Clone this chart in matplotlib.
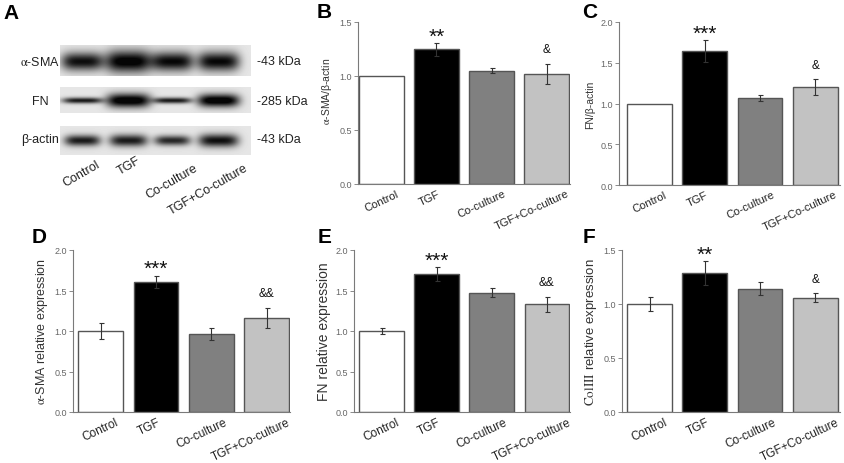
import numpy as np
import matplotlib
matplotlib.use("Agg")
import matplotlib.pyplot as plt

plt.rcParams['font.family'] = ['Liberation Sans', 'DejaVu Sans']
plt.rcParams['mathtext.fontset'] = 'stix'

groups = ["Control", "TGF", "Co-culture", "TGF+Co-culture"]
bar_colors = ["#ffffff", "#000000", "#808080", "#c2c2c2"]

# panel B: a-SMA / b-actin (western blot)
b_vals = [1.0, 1.247, 1.05, 1.02]
b_err = [0.0, 0.062, 0.02, 0.095]
# panel C: FN / b-actin
c_vals = [1.0, 1.645, 1.065, 1.20]
c_err = [0.0, 0.13, 0.035, 0.095]
# panel D: a-SMA qPCR
d_vals = [1.0, 1.605, 0.965, 1.162]
d_err = [0.10, 0.08, 0.078, 0.125]
# panel E: FN qPCR
e_vals = [1.0, 1.70, 1.474, 1.33]
e_err = [0.035, 0.085, 0.056, 0.093]
# panel F: ColIII qPCR
f_vals = [1.0, 1.29, 1.14, 1.06]
f_err = [0.063, 0.11, 0.06, 0.038]

# blot band look (per lane): half width, half height, darkness
sma_bands = [(21, 9, 0.85), (23, 11, 0.95), (21, 9.5, 0.88), (21, 9.5, 0.88)]
fn_bands = [(20, 3.0, 0.8), (22, 7.0, 1.0), (19, 3.0, 0.8), (21, 6.5, 1.0)]
act_bands = [(18, 5.5, 0.8), (19, 6.0, 0.8), (18, 5.0, 0.75), (20, 6.5, 0.85)]

W, H = 844, 464
fig = plt.figure(figsize=(W / 100, H / 100), dpi=100)


def px_axes(x0, y0, x1, y1):
    return fig.add_axes([x0 / W, 1 - y1 / H, (x1 - x0) / W, (y1 - y0) / H])


# ---- panel A: blot drawn as an image ----
axA = px_axes(0, 0, 290, 230)
img = np.ones((230, 290))
xx, yy = np.meshgrid(np.arange(290), np.arange(230))
lanes = [82, 128, 172, 218]
rows = [(46, 76, 62, sma_bands), (88, 113, 101, fn_bands), (127, 155, 141, act_bands)]
for top, bot, cy, bands in rows:
    strip = (yy >= top) & (yy <= bot) & (xx >= 60) & (xx <= 250)
    img[strip] = 0.9
    dark = np.zeros_like(img)
    for lx, (hw, hh, dk) in zip(lanes, bands):
        dark += dk * np.exp(-np.abs((xx - lx) / hw) ** 4) * np.exp(-((yy - cy) / hh) ** 2)
    img[strip] -= np.clip(dark[strip], 0, 0.88)
axA.imshow(img, cmap="gray", vmin=0, vmax=1, interpolation="bilinear",
           extent=(0, 290, 230, 0))
axA.set_xlim(0, 290)
axA.set_ylim(230, 0)
axA.axis("off")
for name, cy in [(r"$\mathrm{\alpha}$-SMA", 62), ("FN", 102), ("β-actin", 140)]:
    axA.text(40, cy, name, ha="center", va="center", fontsize=9, color="#222222")
for name, cy in [("-43 kDa", 62), ("-285 kDa", 102), ("-43 kDa", 140)]:
    axA.text(257, cy, name, ha="left", va="center", fontsize=9, color="#222222")
for name, (lx, ly) in zip(groups, [(81, 174), (129, 166), (172, 182), (208, 190)]):
    axA.text(lx, ly, name, ha="center", va="center", rotation=30, fontsize=9,
             color="#222222")

# leftward nudge (points) of the rotated group labels
lab_shift = [0, -5, -7, -11]


def bar_panel(rect, vals, errs, ymax, ylabel, xlim, marks, ylsize, xtsize, lpad, ly=0.5):
    ax = px_axes(*rect)
    x = np.arange(len(vals))
    ax.bar(x, vals, width=0.81, color=bar_colors, edgecolor="#555555", linewidth=1.0,
           zorder=2)
    for xi, v, e in zip(x, vals, errs):
        if e > 0:
            ax.errorbar(xi, v, yerr=e, fmt="none", ecolor="#333333", elinewidth=0.8,
                        capsize=1.8, capthick=0.8, zorder=3)
    ax.set_ylim(0, ymax)
    ax.set_xlim(*xlim)
    ticks = np.arange(0, ymax + 0.01, 0.5)
    ax.set_yticks(ticks)
    ax.set_yticklabels([f"{t:.1f}" for t in ticks])
    ax.set_xticks([])
    for xi, name, dx in zip(x, groups, lab_shift):
        ax.annotate(name, (xi, 0), xytext=(dx, -3), textcoords="offset points",
                    rotation=25, ha="center", va="top", fontsize=xtsize,
                    color="#222222", annotation_clip=False)
    ax.tick_params(axis="y", length=3, width=0.6, color="#777777", labelsize=6.5,
                   labelcolor="#666666", direction="out", pad=1.5)
    for s in ["top", "right"]:
        ax.spines[s].set_visible(False)
    for s in ["left", "bottom"]:
        ax.spines[s].set_color("#7a7a7a")
        ax.spines[s].set_linewidth(0.8)
    ax.set_ylabel(ylabel, fontsize=ylsize, color="#333333", labelpad=lpad)
    ax.yaxis.label.set_y(ly)
    for i, txt in marks.items():
        top = vals[i] + errs[i]
        big = txt.startswith("*")
        ax.annotate(txt, (x[i], top), xytext=(0, -2 if big else 6),
                    textcoords="offset points", ha="center", va="bottom",
                    fontsize=15 if big else 8.5, color="#111111")
    return ax


bar_panel((358, 23, 570, 185), b_vals, b_err, 1.5, r"$\mathrm{\alpha}$-SMA/β-actin",
          (-0.42, 3.42), {1: "**", 3: "&"}, 7.5, 8, 4, ly=0.58)
bar_panel((619, 23, 840, 186), c_vals, c_err, 2.0, "FN/β-actin",
          (-0.55, 3.45), {1: "***", 3: "&"}, 7.5, 8, 4)
bar_panel((73, 251, 290, 413), d_vals, d_err, 2.0, r"$\mathrm{\alpha}$-SMA relative expression",
          (-0.5, 3.42), {1: "***", 3: "&&"}, 9, 8.5, 3)
bar_panel((354, 251, 570, 413), e_vals, e_err, 2.0, "FN relative expression",
          (-0.5, 3.42), {1: "***", 3: "&&"}, 10, 8.5, 3)
bar_panel((622, 251, 840, 413), f_vals, f_err, 1.5, r"$\mathrm{ColIII}$ relative expression",
          (-0.5, 3.45), {1: "**", 3: "&"}, 9.5, 8.5, 3)

for letter, (lx, ly) in {"A": (3, 4), "B": (317, 3), "C": (582, 3),
                         "D": (32, 228), "E": (318, 228), "F": (583, 228)}.items():
    fig.text(lx / W, 1 - ly / H, letter, fontsize=15, fontweight="bold",
             ha="left", va="top")

fig.savefig("out.png", dpi=100)
